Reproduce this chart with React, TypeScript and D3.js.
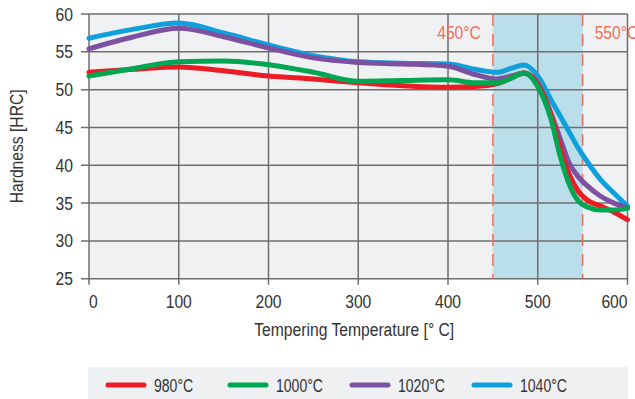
import * as d3 from 'd3';

// tempering temperature (°C) and hardness (HRC) per hardening temperature
const temps = [0, 50, 100, 150, 200, 250, 300, 350, 400, 430, 455, 470, 485, 500, 515, 525, 535, 545, 555, 570, 585, 600];
const hrc980 = [52.3, 52.7, 53.0, 52.5, 51.8, 51.4, 50.9, 50.5, 50.3, 50.4, 50.8, 51.5, 52.2, 50.8, 46.6, 42.3, 38.8, 36.6, 35.4, 34.6, 33.8, 32.8];
const hrc1000 = [51.8, 52.8, 53.7, 53.8, 53.3, 52.3, 51.1, 51.2, 51.3, 50.9, 50.9, 51.5, 52.2, 50.4, 46.0, 41.2, 37.5, 35.3, 34.5, 34.1, 34.1, 34.3];
const hrc1020 = [55.4, 57.0, 58.1, 57.0, 55.5, 54.2, 53.6, 53.4, 53.1, 52.0, 51.4, 51.8, 52.2, 50.6, 46.8, 43.5, 40.3, 38.5, 37.3, 35.9, 35.0, 34.4];
const hrc1040 = [56.8, 58.0, 58.8, 57.5, 55.9, 54.5, 53.7, 53.5, 53.4, 52.7, 52.3, 52.8, 53.25, 51.8, 48.6, 46.5, 44.4, 42.3, 40.5, 38.1, 36.3, 34.6];
const seriesNames = ['980°C', '1000°C', '1020°C', '1040°C'];
const seriesColors = ['#ed1c24', '#00a651', '#7d51a1', '#0f9fdb'];
const xTicks = [0, 100, 200, 300, 400, 500, 600];
const yTicks = [25, 30, 35, 40, 45, 50, 55, 60];
const bandStart = 450;
const bandEnd = 550;

const font = "'Liberation Sans', Arial, sans-serif";

// condensed text: Liberation Sans squeezed horizontally
function T({ x, y, anchor = 'start', size = 18, fill = '#333', sx = 0.87, rotate = 0, children }: any) {
  return (
    <text transform={`translate(${x},${y}) rotate(${rotate}) scale(${sx},1)`} textAnchor={anchor}
      fontSize={size} fill={fill}>{children}</text>
  );
}

export default function App() {
  const width = 635;
  const height = 399;
  const left = 89, right = 627.5, top = 14, bottom = 278.7;

  const x = d3.scaleLinear().domain([0, 600]).range([left, right]);
  const y = d3.scaleLinear().domain([25, 60]).range([bottom, top]);

  const allSeries = [hrc980, hrc1000, hrc1020, hrc1040];
  const line = d3.line<number>()
    .x((_, i) => x(temps[i]))
    .y(d => y(d))
    .curve(d3.curveMonotoneX);

  // draw order: blue, purple, red, green
  const drawOrder = [3, 2, 0, 1];
  const gridColor = '#6e6e6e';
  const dashColor = '#f0705c';

  return (
    <svg width={width} height={height} style={{ position: 'absolute', left: 0, top: 0, display: 'block' }}
      fontFamily={font}>
      <rect x={left} y={top} width={right - left} height={bottom - top} fill="#f0f1f3" />
      <rect x={x(bandStart)} y={top} width={x(bandEnd) - x(bandStart)} height={bottom - top} fill="#bbdeeb" />

      {/* grid */}
      {yTicks.map(t => (
        <line key={'gy' + t} x1={left - 8} x2={right} y1={y(t)} y2={y(t)} stroke={gridColor} strokeWidth={1.5} />
      ))}
      {xTicks.map(t => (
        <line key={'gx' + t} x1={x(t)} x2={x(t)} y1={top} y2={bottom + 6} stroke={gridColor} strokeWidth={1.5} />
      ))}

      {/* 450 / 550 markers */}
      {[bandStart, bandEnd].map(t => (
        <line key={'d' + t} x1={x(t)} x2={x(t)} y1={top} y2={bottom} stroke={dashColor} strokeWidth={1.5}
          strokeDasharray="12,8" />
      ))}
      <T x={x(bandStart) - 12} y={39} anchor="end" fill={dashColor}>{bandStart}°C</T>
      <T x={x(bandEnd) + 12} y={39} fill={dashColor}>{bandEnd}°C</T>

      {/* curves */}
      {drawOrder.map(i => (
        <path key={'s' + i} d={line(allSeries[i]) || ''} fill="none" stroke={seriesColors[i]} strokeWidth={5}
          strokeLinecap="round" />
      ))}

      {/* tick labels */}
      {yTicks.map(t => (
        <T key={'ly' + t} x={73} y={y(t) + 6.5} anchor="end">{t}</T>
      ))}
      {xTicks.map((t, i) => (
        <T key={'lx' + t} x={x(t)} y={307.5}
          anchor={i === 0 ? 'start' : i === xTicks.length - 1 ? 'end' : 'middle'}>{t}</T>
      ))}

      {/* axis titles */}
      <T x={(left + right) / 2 - 4} y={335.5} anchor="middle">Tempering Temperature [° C]</T>
      <T x={23} y={(top + bottom) / 2} anchor="middle" rotate={-90}>Hardness [HRC]</T>

      {/* legend */}
      <rect x={88} y={367} width={540} height={32} fill="#eff0f2" />
      {seriesNames.map((name, i) => {
        const lx = 108 + i * 122;
        return (
          <g key={'lg' + i}>
            <line x1={lx} x2={lx + 36} y1={385} y2={385} stroke={seriesColors[i]} strokeWidth={5}
              strokeLinecap="round" />
            <T x={lx + 46} y={392} sx={0.78}>{name}</T>
          </g>
        );
      })}
    </svg>
  );
}
